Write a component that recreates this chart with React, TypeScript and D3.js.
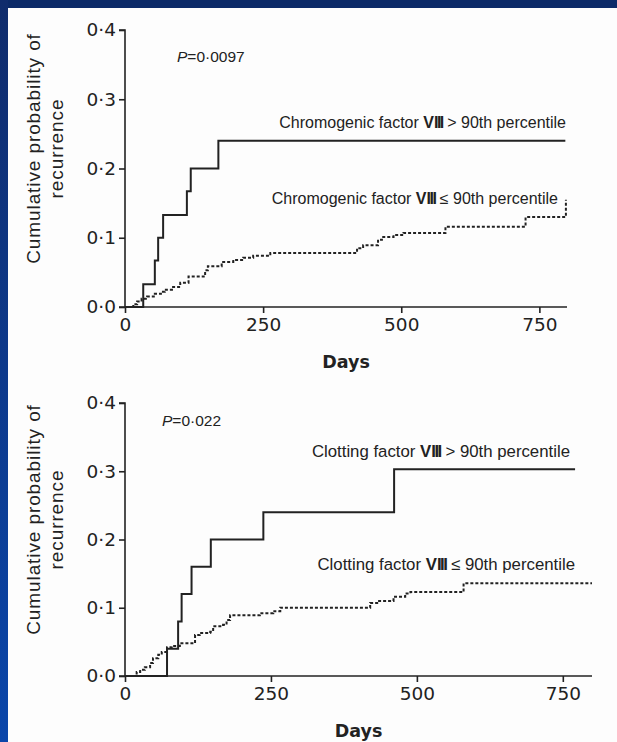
import { useEffect, useRef } from "react";
import * as d3 from "d3";

type Step = [number, number];

// Kaplan-Meier style cumulative recurrence, [days, probability]
const chromoHigh: Step[] = [
  [0, 0], [33, 0.033], [54, 0.067], [60, 0.1], [69, 0.133], [112, 0.167],
  [119, 0.2], [169, 0.24], [797, 0.24],
];
const chromoLow: Step[] = [
  [13, 0], [15, 0.004], [22, 0.008], [30, 0.012], [40, 0.015], [54, 0.019],
  [65, 0.022], [72, 0.025], [85, 0.029], [100, 0.035], [115, 0.044],
  [145, 0.053], [150, 0.059], [175, 0.065], [196, 0.068], [214, 0.071],
  [232, 0.074], [263, 0.078], [420, 0.085], [431, 0.089], [458, 0.097],
  [465, 0.101], [486, 0.104], [504, 0.107], [580, 0.116], [725, 0.13],
  [798, 0.155],
];
const clotHigh: Step[] = [
  [0, 0], [72, 0.04], [91, 0.08], [97, 0.12], [114, 0.16], [147, 0.2],
  [237, 0.24], [461, 0.303], [771, 0.303],
];
const clotLow: Step[] = [
  [14, 0], [20, 0.006], [26, 0.009], [34, 0.013], [43, 0.019], [48, 0.026],
  [57, 0.031], [63, 0.035], [72, 0.042], [80, 0.044], [94, 0.048],
  [120, 0.06], [128, 0.063], [146, 0.065], [151, 0.073], [168, 0.075],
  [174, 0.082], [180, 0.089], [231, 0.092], [254, 0.095], [266, 0.1],
  [420, 0.107], [432, 0.11], [460, 0.116], [480, 0.121], [489, 0.123],
  [580, 0.136], [800, 0.136],
];

const xTicks = [0, 250, 500, 750];
const yTicks = [0, 0.1, 0.2, 0.3, 0.4];

const SANS = "'Liberation Sans', Arial, sans-serif";
const WIDE = "'DejaVu Sans', Verdana, sans-serif";

interface Panel {
  left: number;
  right: number;
  top: number;
  bottom: number;
  pText: string;
  high: Step[];
  low: Step[];
  name: string;
  labelSize: number;
  highLabelPos: [number, number];
  lowLabelPos: [number, number];
  pPos: [number, number];
}

export default function App() {
  const svgRef = useRef<SVGSVGElement>(null);

  useEffect(() => {
    if (!svgRef.current) return;
    const width = 617;
    const height = 742;
    const svg = d3.select(svgRef.current);
    svg.selectAll("*").remove();
    svg.attr("width", width).attr("height", height);

    // frame
    const defs = svg.append("defs");
    const grad = defs
      .append("linearGradient")
      .attr("id", "sideGrad")
      .attr("x1", 0).attr("y1", 0).attr("x2", 0).attr("y2", 1);
    grad.append("stop").attr("offset", "0%").attr("stop-color", "#102c6c");
    grad.append("stop").attr("offset", "100%").attr("stop-color", "#0a46aa");

    svg.append("rect").attr("width", width).attr("height", height).attr("fill", "#fdfdfd");
    svg.append("rect").attr("x", 0).attr("y", 0).attr("width", width).attr("height", 8).attr("fill", "#0c2a68");
    svg.append("rect").attr("x", 0).attr("y", 0).attr("width", 8).attr("height", height).attr("fill", "url(#sideGrad)");

    const panels: Panel[] = [
      {
        left: 125, right: 567, top: 30, bottom: 307,
        pText: "=0·0097",
        high: chromoHigh, low: chromoLow,
        name: "Chromogenic factor ", labelSize: 16,
        highLabelPos: [566, 128], lowLabelPos: [558, 204], pPos: [177, 62],
      },
      {
        left: 125, right: 592, top: 403, bottom: 676,
        pText: "=0·022",
        high: clotHigh, low: clotLow,
        name: "Clotting factor ", labelSize: 16.8,
        highLabelPos: [570, 457], lowLabelPos: [575, 570], pPos: [162, 426],
      },
    ];

    panels.forEach((p) => {
      const x = d3.scaleLinear().domain([0, 800]).range([p.left, p.right]);
      const y = d3.scaleLinear().domain([0, 0.4]).range([p.bottom, p.top]);
      const g = svg.append("g");

      // axes
      const yAxis = g
        .append("g")
        .attr("transform", `translate(${p.left},0)`)
        .call(
          d3.axisLeft(y).tickValues(yTicks).tickSize(6).tickPadding(3)
            .tickFormat((d) => (d as number).toFixed(1).replace(".", "·"))
        );
      const xAxis = g
        .append("g")
        .attr("transform", `translate(0,${p.bottom})`)
        .call(d3.axisBottom(x).tickValues(xTicks).tickSize(6).tickPadding(5));
      [yAxis, xAxis].forEach((a) => {
        a.select(".domain").attr("stroke", "#222").attr("stroke-width", 1.6);
        a.selectAll(".tick line").attr("stroke", "#222").attr("stroke-width", 1.6);
        a.selectAll("text")
          .attr("font-family", WIDE)
          .attr("font-size", 18.5)
          .attr("fill", "#222");
      });
      yAxis.select(".domain").attr("d", `M-6,${p.top}H0V${p.bottom}`);
      xAxis.select(".domain").attr("d", `M${p.left - 6},0H${p.right}`);

      // axis titles
      g.append("text")
        .attr("x", (p.left + p.right) / 2)
        .attr("y", p.bottom + 61)
        .attr("text-anchor", "middle")
        .attr("font-family", WIDE)
        .attr("font-size", 17.5)
        .attr("font-weight", "bold")
        .attr("fill", "#222")
        .text("Days");

      const yl = g
        .append("text")
        .attr("transform", `translate(40,${(p.top + p.bottom) / 2 - 20}) rotate(-90)`)
        .attr("text-anchor", "middle")
        .attr("font-family", SANS)
        .attr("font-size", 19)
        .attr("letter-spacing", 0.9)
        .attr("fill", "#222");
      yl.append("tspan").attr("x", 0).attr("dy", 0).text("Cumulative probability of");
      yl.append("tspan").attr("x", 0).attr("dy", 23).text("recurrence");

      // curves
      const line = d3
        .line<Step>()
        .x((d) => x(d[0]))
        .y((d) => y(d[1]))
        .curve(d3.curveStepAfter);

      g.append("path")
        .datum(p.low)
        .attr("d", line)
        .attr("fill", "none")
        .attr("stroke", "#222")
        .attr("stroke-width", 2)
        .attr("stroke-dasharray", "3,2");

      g.append("path")
        .datum(p.high)
        .attr("d", line)
        .attr("fill", "none")
        .attr("stroke", "#222")
        .attr("stroke-width", 2);

      // labels
      const addLabel = (sign: string, pos: [number, number]) => {
        const t = g
          .append("text")
          .attr("x", pos[0])
          .attr("y", pos[1])
          .attr("text-anchor", "end")
          .attr("font-family", SANS)
          .attr("font-size", p.labelSize)
          .attr("fill", "#222");
        t.append("tspan").text(p.name);
        t.append("tspan").attr("font-weight", "bold").text("V");
        t.append("tspan").attr("font-weight", "bold").attr("letter-spacing", -1.5).text("III");
        t.append("tspan").text(` ${sign} 90th percentile`);
      };
      addLabel(">", p.highLabelPos);
      addLabel("≤", p.lowLabelPos);

      const pt = g
        .append("text")
        .attr("x", p.pPos[0])
        .attr("y", p.pPos[1])
        .attr("font-family", SANS)
        .attr("font-size", 15.5)
        .attr("fill", "#222");
      pt.append("tspan").attr("font-style", "italic").text("P");
      pt.append("tspan").text(p.pText);
    });
  }, []);

  return (
    <svg
      ref={svgRef}
      style={{ position: "absolute", left: 0, top: 0, display: "block" }}
    />
  );
}
